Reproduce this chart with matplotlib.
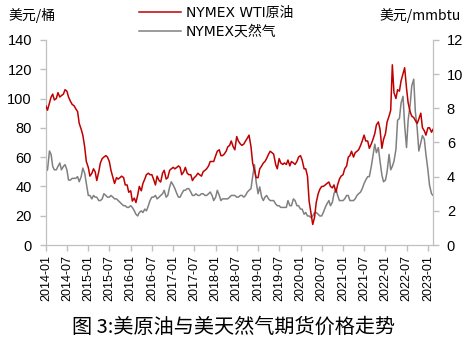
import matplotlib
matplotlib.use('Agg')
import matplotlib.pyplot as plt
import matplotlib.dates as mdates
import pandas as pd

plt.rcParams['font.family'] = ['Liberation Sans', 'Noto Sans CJK SC', 'DejaVu Sans']

# semi-monthly prices (1st and 15th of each month), 2014-01 .. 2023-02
wti = [95, 92, 97, 101, 103, 99, 100, 104, 101, 102, 103, 106, 105, 101, 98, 96, 95, 93, 91, 83, 79, 75, 67, 57,
       53, 47, 49, 52, 50, 44, 50, 56, 59, 60, 61, 60, 57, 51, 46, 42, 46, 45, 46, 47, 46, 41, 41, 36,
       37, 30, 32, 29, 34, 40, 37, 42, 45, 48, 49, 48, 48, 45, 41, 47, 44, 43, 49, 51, 45, 46, 51, 52,
       53, 52, 53, 54, 53, 48, 50, 53, 49, 48, 48, 44, 46, 47, 49, 48, 47, 50, 51, 52, 54, 57, 57, 57,
       61, 64, 65, 61, 61, 62, 64, 67, 68, 71, 67, 65, 74, 71, 69, 68, 69, 71, 73, 75, 67, 56, 51, 46,
       46, 52, 54, 56, 57, 59, 62, 64, 63, 62, 55, 52, 59, 56, 55, 56, 55, 58, 54, 57, 56, 55, 57, 60,
       61, 58, 52, 52, 47, 30, 21, 14, 19, 29, 35, 38, 40, 40, 41, 42, 43, 40, 39, 41, 36, 41, 45, 47,
       48, 52, 54, 60, 61, 64, 60, 63, 64, 65, 68, 71, 75, 71, 71, 66, 69, 72, 76, 82, 84, 79, 66, 72,
       76, 84, 88, 92, 123, 104, 100, 106, 105, 112, 117, 121, 107, 97, 91, 88, 87, 85, 83, 86, 90, 80, 78, 75,
       80, 80, 77, 79]

gas = [4.3, 4.4, 5.5, 5.3, 4.6, 4.4, 4.4, 4.6, 4.8, 4.4, 4.6, 4.7, 4.4, 3.8, 3.8, 3.9, 3.9, 3.9, 4.0, 3.7, 4.0, 4.5, 4.2, 3.6,
       2.9, 2.9, 2.7, 2.9, 2.8, 2.8, 2.6, 2.6, 2.7, 3.0, 2.9, 2.8, 2.8, 2.9, 2.8, 2.7, 2.7, 2.6, 2.5, 2.4, 2.3, 2.3, 2.2, 2.2,
       2.3, 2.2, 2.0, 1.8, 1.7, 1.9, 2.0, 1.9, 2.1, 2.0, 2.3, 2.6, 2.8, 2.8, 2.9, 2.7, 2.8, 2.9, 3.0, 3.2, 2.8, 2.9, 3.4, 3.7,
       3.5, 3.3, 3.0, 2.8, 2.8, 3.0, 3.2, 3.2, 3.3, 3.3, 3.1, 2.9, 2.9, 3.0, 2.9, 2.9, 3.0, 3.0, 2.9, 2.9, 3.0, 3.1, 2.9, 2.6,
       2.8, 3.2, 2.9, 2.6, 2.7, 2.7, 2.7, 2.7, 2.8, 2.9, 2.9, 2.9, 2.8, 2.8, 2.9, 2.9, 2.8, 2.9, 3.1, 3.2, 3.3, 4.0, 4.7, 3.7,
       3.0, 3.4, 2.8, 2.6, 2.8, 2.9, 2.7, 2.6, 2.6, 2.6, 2.4, 2.3, 2.3, 2.2, 2.2, 2.2, 2.2, 2.6, 2.3, 2.3, 2.7, 2.6, 2.3, 2.3,
       2.1, 2.1, 1.8, 1.9, 1.7, 1.7, 1.6, 1.7, 1.9, 1.9, 1.8, 1.7, 1.7, 1.9, 2.2, 2.4, 2.6, 2.3, 2.5, 3.0, 3.3, 2.9, 2.6, 2.6,
       2.6, 2.7, 2.9, 2.9, 2.6, 2.6, 2.6, 2.7, 2.9, 3.0, 3.1, 3.3, 3.6, 3.8, 4.0, 4.0, 4.6, 5.2, 5.9, 5.4, 5.7, 4.9, 4.1, 3.7,
       3.8, 4.3, 5.3, 4.4, 4.6, 4.9, 5.6, 7.3, 7.4, 8.3, 8.7, 7.0, 5.7, 7.3, 8.2, 9.3, 9.7, 7.8, 6.8, 5.5, 6.0, 6.4, 6.2, 5.3,
       4.4, 3.5, 3.0, 2.9]

dates = pd.date_range('2014-01-01', periods=len(wti), freq='SMS')

red = '#c00000'
grey = '#808080'
spine_c = '#bfbfbf'

fig = plt.figure(figsize=(4.68, 3.41), dpi=100)
ax = fig.add_axes([0.098, 0.2815, 0.827, 0.6015])
ax2 = ax.twinx()

l1, = ax.plot(dates, wti, color=red, lw=1.1, label='NYMEX WTI原油', zorder=3)
l2, = ax2.plot(dates, gas, color=grey, lw=1.1, label='NYMEX天然气', zorder=2)
ax.set_zorder(ax2.get_zorder() + 1)
ax.patch.set_visible(False)

ax.set_ylim(0, 140)
ax.set_yticks(range(0, 141, 20))
ax2.set_ylim(0, 12)
ax2.set_yticks(range(0, 13, 2))
ax.set_xlim(pd.Timestamp('2014-01-01'), pd.Timestamp('2023-02-13'))
ax.xaxis.set_major_locator(mdates.MonthLocator(bymonth=[1, 7]))
ax.xaxis.set_major_formatter(mdates.DateFormatter('%Y-%m'))
for lab in ax.get_xticklabels():
    lab.set_rotation(90)

for a in (ax, ax2):
    a.spines['top'].set_visible(False)
    for s in ('left', 'right', 'bottom'):
        a.spines[s].set_color(spine_c)
    a.tick_params(colors=spine_c, labelcolor='black', length=4, width=1)
ax.tick_params(axis='y', labelsize=10.5, pad=6)
ax2.tick_params(axis='y', labelsize=10.5, pad=6)
ax.tick_params(axis='x', labelsize=9, pad=3)

fig.text(0.017, 0.955, '美元/桶', fontsize=10, family=['Noto Sans CJK SC'], va='center')
fig.text(0.985, 0.955, '美元/mmbtu', fontsize=10, family=['Noto Sans CJK SC', 'DejaVu Sans'],
         va='center', ha='right')

fig.legend(handles=[l1, l2], loc='upper left', bbox_to_anchor=(0.27, 1.02), frameon=False,
           handlelength=3.0, handletextpad=0.4, labelspacing=0.35,
           prop={'family': ['DejaVu Sans', 'Noto Sans CJK SC'], 'size': 10})

fig.text(0.5, 0.04, '图 3:美原油与美天然气期货价格走势', fontsize=14.5,
         family=['Noto Sans CJK SC'], ha='center', va='center')

fig.savefig('out.png', dpi=100)
